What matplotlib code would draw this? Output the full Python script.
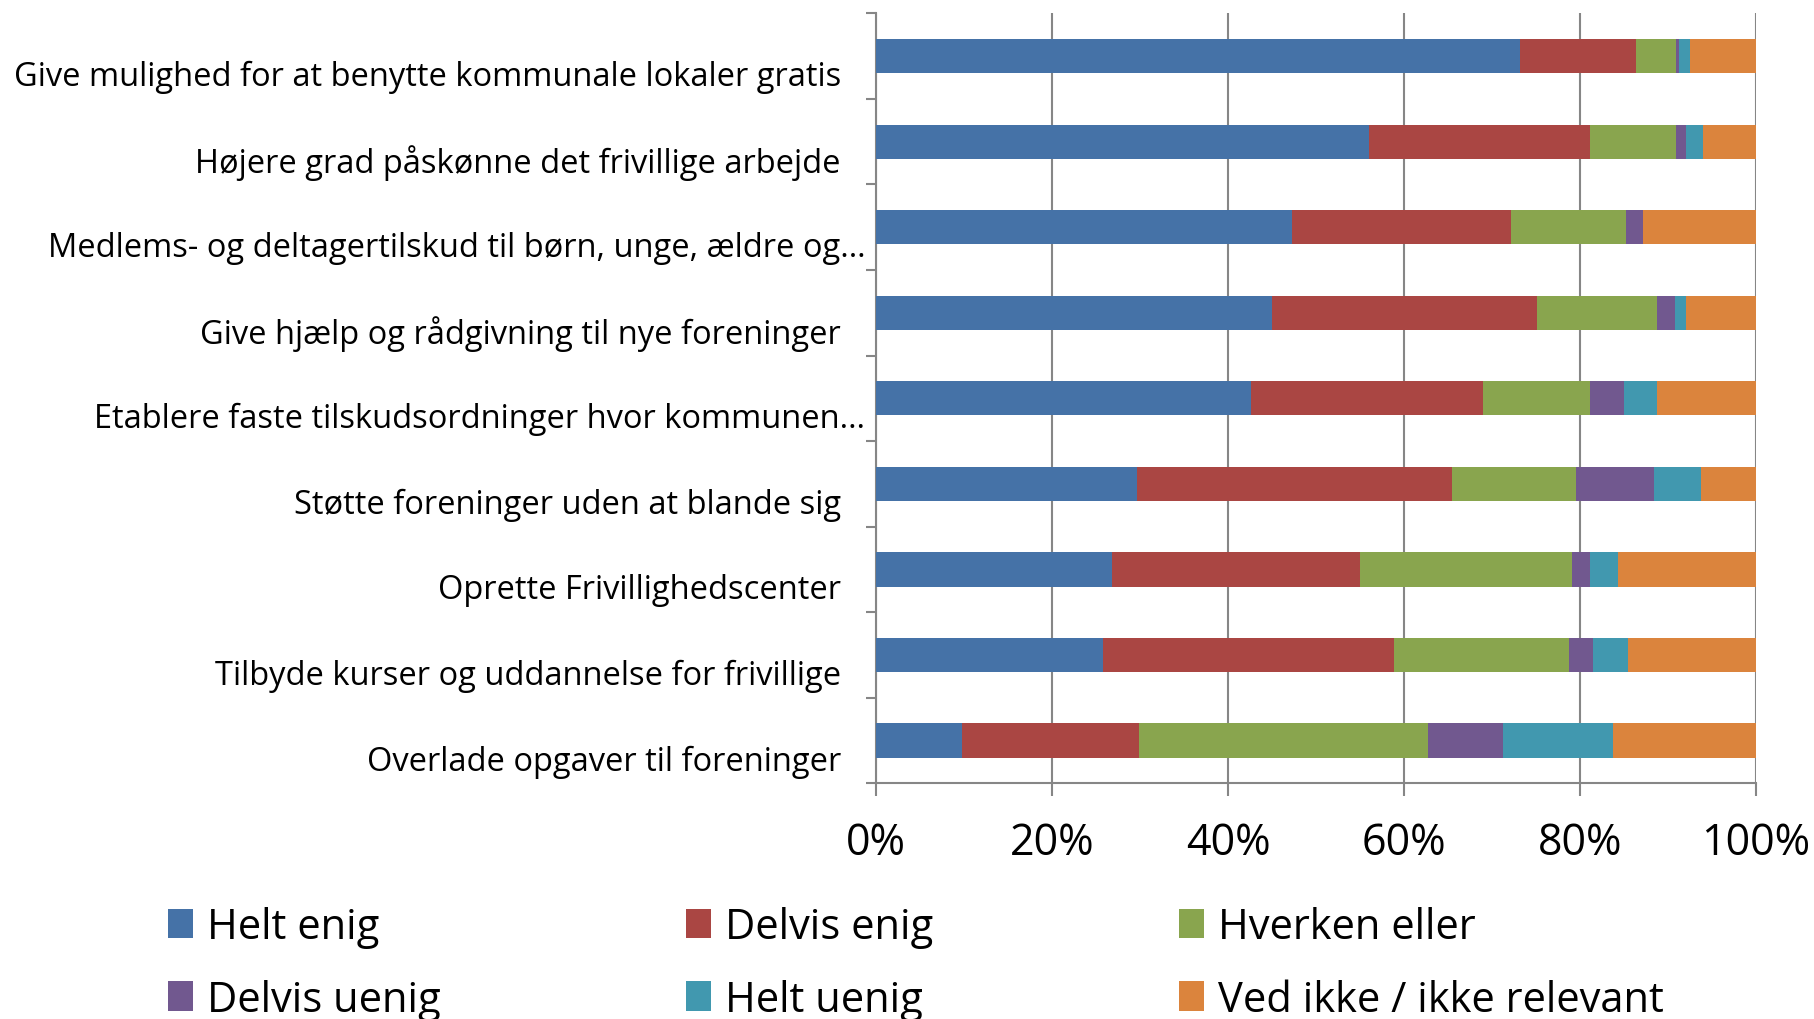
import numpy as np
import matplotlib.pyplot as plt
from matplotlib.transforms import blended_transform_factory

plt.rcParams['font.family'] = ['Open Sans', 'DejaVu Sans']

#--- data (andel i %)
categories = ['Give mulighed for at benytte kommunale lokaler gratis',
              'Højere grad påskønne det frivillige arbejde',
              'Medlems- og deltagertilskud til børn, unge, ældre og…',
              'Give hjælp og rådgivning til nye foreninger',
              'Etablere faste tilskudsordninger hvor kommunen…',
              'Støtte foreninger uden at blande sig',
              'Oprette Frivillighedscenter',
              'Tilbyde kurser og uddannelse for frivillige',
              'Overlade opgaver til foreninger']
truncated = [False, False, True, False, True, False, False, False, False]

series = ['Helt enig', 'Delvis enig', 'Hverken eller',
          'Delvis uenig', 'Helt uenig', 'Ved ikke / ikke relevant']
helt_enig    = [73.2, 56.0, 47.3, 45.0, 42.6, 29.7, 26.8, 25.8, 9.7]
delvis_enig  = [13.2, 25.1, 24.9, 30.1, 26.4, 35.7, 28.2, 33.1, 20.2]
hverken      = [4.5, 9.8, 13.0, 13.7, 12.1, 14.2, 24.1, 19.8, 32.8]
delvis_uenig = [0.3, 1.2, 2.0, 2.0, 3.9, 8.8, 2.0, 2.8, 8.5]
helt_uenig   = [1.3, 1.9, 0.0, 1.2, 3.7, 5.3, 3.2, 4.0, 12.6]
ved_ikke     = [7.5, 6.0, 12.8, 8.0, 11.3, 6.3, 15.7, 14.5, 16.2]
values = [helt_enig, delvis_enig, hverken, delvis_uenig, helt_uenig, ved_ikke]
colors = ['#4572A7', '#AA4643', '#89A54E', '#71588F', '#4198AF', '#DB843D']
xticks = [0, 20, 40, 60, 80, 100]

fig = plt.figure(figsize=(18.14, 10.2), dpi=100)
ax = fig.add_axes([0.483, 0.231, 0.485, 0.755])

y = np.arange(len(categories))
left = np.zeros(len(categories))
handles = []
for vals, col, name in zip(values, colors, series):
    vals = np.array(vals)
    b = ax.barh(y, vals, left=left, height=0.4, color=col, label=name, zorder=3)
    handles.append(b)
    left = left + vals

ax.set_xlim(0, 100)
ax.set_ylim(len(categories) - 0.5, -0.5)
ax.set_xticks(xticks)
ax.set_xticklabels([str(x) + '%' for x in xticks], fontsize=31)
ax.set_yticks(np.arange(-0.5, len(categories), 1.0))
ax.set_yticklabels([])
ax.tick_params(axis='x', direction='out', length=9, width=1.5, color='#868686', pad=18)
ax.tick_params(axis='y', direction='out', length=7, width=1.5, color='#868686')
ax.grid(True, axis='x', color='#868686', linewidth=1.5, zorder=0)
for s in ['top', 'right']:
    ax.spines[s].set_visible(False)
for s in ['left', 'bottom']:
    ax.spines[s].set_color('#868686')
    ax.spines[s].set_linewidth(1.5)

#--- kategorinavne
trans = blended_transform_factory(ax.transAxes, ax.transData)
for i, (cat, tr) in enumerate(zip(categories, truncated)):
    xpos = -0.0125 if tr else -0.04
    ax.text(xpos, i + 0.24, cat, transform=trans, ha='right', va='center', fontsize=23.5)

#--- legend i rækkefølge række for række
order = [0, 3, 1, 4, 2, 5]
fig.legend([handles[k] for k in order], [series[k] for k in order],
           ncol=3, loc='upper left', bbox_to_anchor=(0.0926, 0.111),
           borderpad=0, borderaxespad=0,
           frameon=False, fontsize=30, handlelength=0.6, handleheight=0.7,
           handletextpad=0.33, columnspacing=5.9, labelspacing=0.74)

fig.savefig('out.png', dpi=100)
